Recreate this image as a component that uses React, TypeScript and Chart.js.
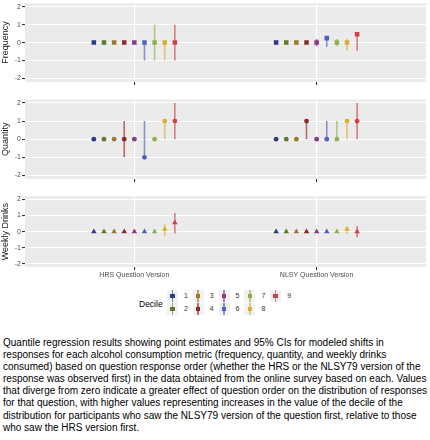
import React, { useEffect, useRef } from "react";
import { Chart, registerables } from "chart.js";
Chart.register(...registerables);

const versions = ["HRS Question Version", "NLSY Question Version"];
const deciles = [1, 2, 3, 4, 5, 6, 7, 8, 9];
const decileColors = ["#2e3a87", "#5f7a2a", "#9a7a2a", "#8a2a2a", "#8b3a8a", "#5060c0", "#90b050", "#d8b030", "#d04048"];
const yTicks = [-2, -1.5, -1, -0.5, 0, 0.5, 1, 1.5, 2];
const metrics = ["Frequency", "Quantity", "Weekly Drinks"];

// Frequency
const freqHrsEst = [0, 0, 0, 0, 0, 0, 0, 0, 0];
const freqHrsLo = [0, 0, 0, 0, 0, -1, -1, -1, -1];
const freqHrsHi = [0, 0, 0, 0, 0, 0, 1, 0, 1];
const freqNlsyEst = [0, 0, 0, 0, 0, 0.25, 0, 0, 0.47];
const freqNlsyLo = [0, 0, 0, 0, -0.2, -0.25, -0.2, -0.45, -0.45];
const freqNlsyHi = [0, 0, 0, 0, 0.2, 0.35, 0.2, 0.2, 0.57];
// Quantity
const quantHrsEst = [0, 0, 0, 0, 0, -1, 0, 1, 1];
const quantHrsLo = [0, 0, 0, -1, 0, -1, 0, 0, 0];
const quantHrsHi = [0, 0, 0, 1, 0, 1, 0, 1, 2];
const quantNlsyEst = [0, 0, 0, 1, 0, 0, 0, 1, 1];
const quantNlsyLo = [0, 0, 0, 0, 0, 0, 0, 0, 0];
const quantNlsyHi = [0, 0, 0, 1, 0, 1, 1, 1, 2];
// Weekly drinks
const weekHrsEst = [0, 0, 0, 0, 0, 0, 0, 0.15, 0.55];
const weekHrsLo = [0, 0, 0, 0, 0, 0, 0, -0.3, -0.12];
const weekHrsHi = [0, 0, 0, 0, 0, 0, 0, 0.45, 1.15];
const weekNlsyEst = [0, 0, 0, 0, 0, 0, 0, 0.15, 0];
const weekNlsyLo = [0, 0, 0, 0, 0, 0, 0, -0.15, -0.35];
const weekNlsyHi = [0, 0, 0, 0, 0, 0, 0, 0.3, 0.35];

const captionLines = [
  "Quantile regression results showing point estimates and 95% CIs for modeled shifts in",
  "responses for each alcohol consumption metric (frequency, quantity, and weekly drinks",
  "consumed) based on question response order (whether the HRS or the NLSY79 version of the",
  "response was observed first) in the data obtained from the online survey based on each. Values",
  "that diverge from zero indicate a greater effect of question order on the distribution of responses",
  "for that question, with higher values representing increases in the value of the decile of the",
  "distribution for participants who saw the NLSY79 version of the question first, relative to those",
  "who saw the HRS version first.",
];

const FONT = "'Liberation Sans', Arial, Helvetica, sans-serif";
const DODGE = 0.5 / 9;

function alpha(hex: string, a: number) {
  const n = parseInt(hex.slice(1), 16);
  return `rgba(${(n >> 16) & 255},${(n >> 8) & 255},${n & 255},${a})`;
}

const bgPlugin = {
  id: "panelBg",
  beforeDraw(chart: any) {
    const { ctx, chartArea: a } = chart;
    ctx.save();
    ctx.fillStyle = "#EBEBEB";
    ctx.fillRect(a.left, a.top, a.right - a.left, a.bottom - a.top);
    ctx.restore();
  },
};

const errPlugin = {
  id: "errBars",
  beforeDatasetsDraw(chart: any) {
    const { ctx, chartArea: a } = chart;
    const ys = chart.scales.y;
    ctx.save();
    ctx.beginPath();
    ctx.rect(a.left, a.top, a.right - a.left, a.bottom - a.top);
    ctx.clip();
    chart.data.datasets.forEach((ds: any, i: number) => {
      const meta = chart.getDatasetMeta(i);
      meta.data.forEach((pt: any, j: number) => {
        const lo = ds.errLo[j];
        const hi = ds.errHi[j];
        if (lo === hi) return;
        ctx.strokeStyle = alpha(ds.baseColor, 0.65);
        ctx.lineWidth = 1.6;
        ctx.beginPath();
        ctx.moveTo(pt.x, ys.getPixelForValue(lo));
        ctx.lineTo(pt.x, ys.getPixelForValue(hi));
        ctx.stroke();
      });
    });
    ctx.restore();
  },
};

type PanelDef = {
  title: string;
  shape: string;
  radius: number;
  est: number[][];
  lo: number[][];
  hi: number[][];
  showX: boolean;
};

const panels: PanelDef[] = [
  { title: metrics[0], shape: "rect", radius: 3.2, est: [freqHrsEst, freqNlsyEst], lo: [freqHrsLo, freqNlsyLo], hi: [freqHrsHi, freqNlsyHi], showX: false },
  { title: metrics[1], shape: "circle", radius: 2.4, est: [quantHrsEst, quantNlsyEst], lo: [quantHrsLo, quantNlsyLo], hi: [quantHrsHi, quantNlsyHi], showX: false },
  { title: metrics[2], shape: "triangle", radius: 3.2, est: [weekHrsEst, weekNlsyEst], lo: [weekHrsLo, weekNlsyLo], hi: [weekHrsHi, weekNlsyHi], showX: true },
];

function makeChart(canvas: HTMLCanvasElement, p: PanelDef) {
  const datasets = deciles.map((d, di) => ({
    label: String(d),
    data: versions.map((_, vi) => ({ x: vi + 1 + (di - 4) * DODGE, y: p.est[vi][di] })),
    errLo: versions.map((_, vi) => p.lo[vi][di]),
    errHi: versions.map((_, vi) => p.hi[vi][di]),
    baseColor: decileColors[di],
    backgroundColor: decileColors[di],
    borderColor: decileColors[di],
    borderWidth: 0,
    pointStyle: p.shape,
    pointRadius: p.radius,
    pointHoverRadius: p.radius,
  }));
  return new Chart(canvas, {
    type: "scatter",
    data: { datasets } as any,
    plugins: [bgPlugin, errPlugin],
    options: {
      animation: false,
      responsive: false,
      devicePixelRatio: 1,
      layout: { padding: { left: 0, right: 4, top: 0, bottom: 0 } },
      plugins: { legend: { display: false }, tooltip: { enabled: false } },
      scales: {
        x: {
          type: "linear",
          min: 0.4,
          max: 2.6,
          afterBuildTicks: (s: any) => {
            s.ticks = versions.map((_, i) => ({ value: i + 1 }));
          },
          ticks: {
            display: p.showX,
            autoSkip: false,
            maxRotation: 0,
            padding: 1,
            color: "#4D4D4D",
            font: { family: FONT, size: 7 },
            callback: (v: any) => versions[Math.round(v) - 1],
          },
          grid: { color: "#FFFFFF", lineWidth: 1.1, tickColor: "#333333", tickLength: 3, drawTicks: true },
          border: { display: false },
          afterFit: (s: any) => {
            s.height = p.showX ? 16 : 8;
            s.paddingLeft = 0;
            s.paddingRight = 0;
          },
        },
        y: {
          type: "linear",
          min: -2.2,
          max: 2.2,
          afterBuildTicks: (s: any) => {
            s.ticks = yTicks.map((v) => ({ value: v }));
          },
          ticks: {
            padding: 1,
            color: "#4D4D4D",
            font: { family: FONT, size: 7 },
            callback: (v: any) => (Number.isInteger(v) ? String(v) : ""),
          },
          grid: {
            color: "#FFFFFF",
            lineWidth: (c: any) => (Number.isInteger(c.tick.value) ? 1.1 : 0.5),
            tickColor: (c: any) => (Number.isInteger(c.tick.value) ? "#333333" : "rgba(0,0,0,0)"),
            tickLength: 3,
          },
          border: { display: false },
          title: {
            display: true,
            text: p.title,
            color: "#1A1A1A",
            font: { family: FONT, size: 9 },
            padding: { top: 0, bottom: 0 },
          },
          afterFit: (s: any) => {
            s.width = 25;
            s.paddingTop = 0;
            s.paddingBottom = 0;
          },
        },
      },
    } as any,
  });
}

const panelPos = [
  { top: 0, height: 90 },
  { top: 97, height: 90 },
  { top: 193, height: 90 },
];

export default function App() {
  const r0 = useRef<HTMLCanvasElement>(null);
  const r1 = useRef<HTMLCanvasElement>(null);
  const r2 = useRef<HTMLCanvasElement>(null);
  const refs = [r0, r1, r2];

  useEffect(() => {
    const charts = panels.map((p, i) => makeChart(refs[i].current as HTMLCanvasElement, p));
    return () => charts.forEach((c) => c.destroy());
  }, []);

  const legendCols = [0, 1, 2, 3, 4];
  return (
    <div style={{ position: "absolute", left: 0, top: 0, width: 430, height: 440, background: "#fff", overflow: "hidden", fontFamily: FONT }}>
      {panels.map((p, i) => (
        <canvas
          key={p.title}
          ref={refs[i]}
          width={430}
          height={panelPos[i].height}
          style={{ position: "absolute", left: 0, top: panelPos[i].top, width: 430, height: panelPos[i].height }}
        />
      ))}
      <div style={{ position: "absolute", left: 139, top: 298, fontSize: 8.5, color: "#000", lineHeight: "12px" }}>Decile</div>
      {deciles.map((d, di) => {
        const col = Math.floor(di / 2);
        const row = di % 2;
        const left = 167 + legendCols[col] * 25.8;
        const top = 290 + row * 13;
        return (
          <React.Fragment key={d}>
            <div style={{ position: "absolute", left, top, width: 11, height: 12, background: "#F2F2F2" }}>
              <div style={{ position: "absolute", left: 4.7, top: 0, width: 1.6, height: 12, background: alpha(decileColors[di], 0.65) }} />
              <div style={{ position: "absolute", left: 3.3, top: 3.8, width: 4.4, height: 4.4, background: decileColors[di] }} />
            </div>
            <div style={{ position: "absolute", left: left + 17, top: top, fontSize: 7, lineHeight: "12px", color: "#333" }}>{d}</div>
          </React.Fragment>
        );
      })}
      <div style={{ position: "absolute", left: 3, top: 337, fontSize: 10, lineHeight: "12.1px", color: "#000" }}>
        {captionLines.map((l, i) => (
          <div key={i} style={{ whiteSpace: "nowrap" }}>{l}</div>
        ))}
      </div>
    </div>
  );
}
